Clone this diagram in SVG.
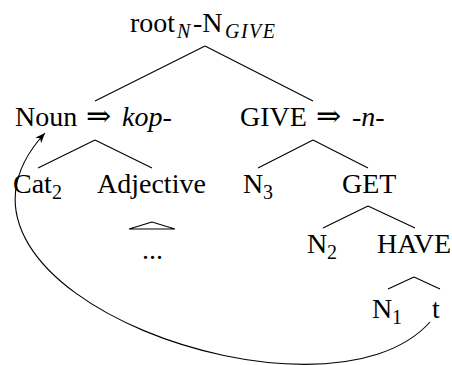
<svg xmlns="http://www.w3.org/2000/svg" width="452" height="365" viewBox="0 0 452 365">
<defs>
<style>
text{font-family:"Liberation Serif","DejaVu Serif",serif;font-size:28px;fill:#000}
.sub{font-size:20px}
.it{font-style:italic}
.arrowsym{font-family:"DejaVu Serif",serif;font-size:30px}
.edge{stroke:#000;stroke-width:1.1;fill:none}
</style>
<marker id="arr" markerWidth="11" markerHeight="9" refX="10" refY="4.5" orient="auto" markerUnits="userSpaceOnUse">
<path d="M0,0.5 L10,4.5 L0,8.5 L2.8,4.5 z" fill="#000"/>
</marker>
</defs>
<rect width="452" height="365" fill="#fff"/>
<g id="connectors">
<path class="edge" d="M205,46 L95,101 M205,46 L313,101"/>
<path class="edge" d="M95,140 L38,168 M95,140 L152,168"/>
<path class="edge" d="M313,140 L258,168 M313,140 L368,168"/>
<path class="edge" d="M368,206 L323,228 M368,206 L415,228"/>
<path class="edge" d="M414,277 L388,289 M414,277 L440,289"/>
<path class="edge" d="M430,322 C325,440 -100,290 45,133" marker-end="url(#arr)"/>
</g>
<g id="root"><text y="32"><tspan x="130">root</tspan><tspan class="sub it" x="177" dy="6">N</tspan><tspan x="193" dy="-6">-N</tspan><tspan class="sub it" x="225" dy="6" letter-spacing="1.5">GIVE</tspan></text></g>
<g id="noun"><text y="126"><tspan x="15">Noun</tspan><tspan x="86" class="arrowsym">⇒</tspan><tspan x="122" class="it">kop-</tspan></text></g>
<g id="give"><text y="126"><tspan x="240">GIVE</tspan><tspan x="316" class="arrowsym">⇒</tspan><tspan x="352" class="it">-n-</tspan></text></g>
<g id="cat2"><text y="193"><tspan x="13">Cat</tspan><tspan class="sub" x="52" dy="6">2</tspan></text></g>
<g id="adjective"><text x="97" y="193">Adjective</text>
<path d="M152,222 L129,229 L175,229 z" fill="#fff" stroke="#000" stroke-width="1.1"/>
<text x="142" y="259" font-size="24">...</text></g>
<g id="n3"><text y="193"><tspan x="243">N</tspan><tspan class="sub" x="263" dy="6">3</tspan></text></g>
<g id="get"><text x="342" y="193">GET</text></g>
<g id="n2"><text y="253"><tspan x="307">N</tspan><tspan class="sub" x="327" dy="6">2</tspan></text></g>
<g id="have"><text x="377" y="253">HAVE</text></g>
<g id="n1"><text y="318"><tspan x="372">N</tspan><tspan class="sub" x="392" dy="6">1</tspan></text></g>
<g id="t"><text x="432" y="318">t</text></g>
</svg>
